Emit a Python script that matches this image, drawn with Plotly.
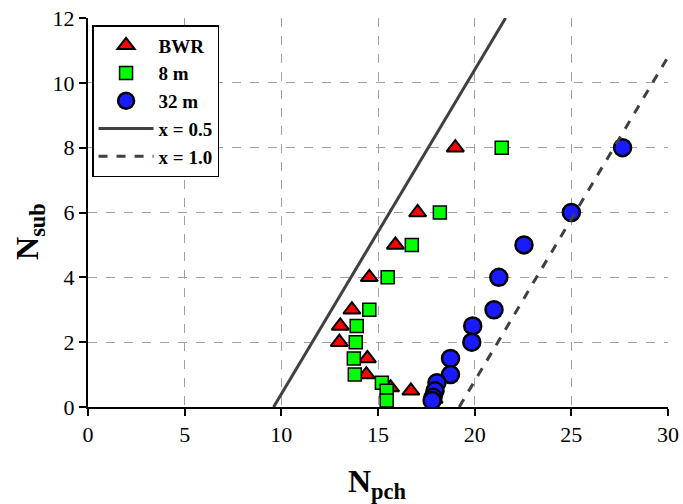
"""
Subcooling number vs phase-change number stability map.
"""

import plotly.graph_objects as go

# ── Data ───────────────────────────────────────────────────────────────────────
bwr_npch = [19.0, 17.05, 15.9, 14.55, 13.65, 13.05, 13.0, 14.45, 14.4, 15.65, 16.7, 17.9]
bwr_nsub = [8.0, 6.0, 5.0, 4.0, 3.0, 2.5, 2.0, 1.5, 1.0, 0.6, 0.5, 0.25]

m8_npch = [21.4, 18.2, 16.75, 15.5, 14.55, 13.9, 13.85, 13.75, 13.8, 15.2, 15.45, 15.45]
m8_nsub = [8.0, 6.0, 5.0, 4.0, 3.0, 2.5, 2.0, 1.5, 1.0, 0.75, 0.5, 0.2]

m32_npch = [27.65, 25.0, 22.55, 21.25, 21.0, 19.9, 19.85, 18.75, 18.75, 18.05, 17.95, 17.85, 17.8]
m32_nsub = [8.0, 6.0, 5.0, 4.0, 3.0, 2.5, 2.0, 1.5, 1.0, 0.75, 0.5, 0.3, 0.2]

# constant-quality lines  (N_sub = N_pch - 19.2 * x)
x05_npch = [9.6, 21.6]
x05_nsub = [0.0, 12.0]
x10_npch = [19.2, 31.2]
x10_nsub = [0.0, 12.0]

x_ticks = [0, 5, 10, 15, 20, 25, 30]
y_ticks = [0, 2, 4, 6, 8, 10, 12]

FONT = "Liberation Serif"
GRID = "#a0a0a0"

fig = go.Figure()

fig.add_trace(go.Scatter(
    x=bwr_npch, y=bwr_nsub, mode="markers", name="<b>BWR</b>",
    marker=dict(symbol="triangle-up", size=15, color="#ff0000",
                line=dict(color="black", width=2)),
))
fig.add_trace(go.Scatter(
    x=m8_npch, y=m8_nsub, mode="markers", name="<b>8 m</b>",
    marker=dict(symbol="square", size=13, color="#00ff00",
                line=dict(color="black", width=1.5)),
))
fig.add_trace(go.Scatter(
    x=m32_npch, y=m32_nsub, mode="markers", name="<b>32 m</b>",
    marker=dict(symbol="circle", size=17, color="#1a1aff",
                line=dict(color="black", width=2.5)),
))
fig.add_trace(go.Scatter(
    x=x05_npch, y=x05_nsub, mode="lines", name="<b>x = 0.5</b>",
    line=dict(color="#404040", width=3),
))
fig.add_trace(go.Scatter(
    x=x10_npch, y=x10_nsub, mode="lines", name="<b>x = 1.0</b>",
    line=dict(color="#404040", width=3, dash="dash"),
))

axis_common = dict(
    ticks="outside", ticklen=7, tickwidth=1.5, tickcolor="black",
    automargin=False, showgrid=True, gridcolor=GRID, gridwidth=1,
    griddash="dash", showline=True, linecolor="black", linewidth=2,
    zeroline=False, tickfont=dict(family=FONT, size=22),
)

fig.update_layout(
    width=683, height=504,
    paper_bgcolor="white", plot_bgcolor="white",
    margin=dict(l=88, r=15, t=18, b=97),
    font=dict(family=FONT, color="black", size=19),
    showlegend=True,
    legend=dict(
        x=0.007, y=0.982, xanchor="left", yanchor="top",
        bgcolor="white", bordercolor="black", borderwidth=1.5,
        font=dict(family=FONT, size=19, color="black"),
        itemwidth=55, tracegroupgap=0,
    ),
    xaxis=dict(range=[0, 30], tickvals=x_ticks, **axis_common),
    yaxis=dict(range=[0, 12], tickvals=y_ticks, **axis_common),
    annotations=[
        dict(text="<b>N<sub>pch</sub></b>", xref="paper", yref="paper",
             x=0.499, y=-0.197, xanchor="center", yanchor="middle",
             showarrow=False, font=dict(family=FONT, size=32)),
        dict(text="<b>N<sub>sub</sub></b>", xref="paper", yref="paper",
             x=-0.1, y=0.45, xanchor="center", yanchor="middle",
             textangle=-90, showarrow=False, font=dict(family=FONT, size=32)),
    ],
)

fig.write_html("out.html", config={"displayModeBar": False},
               post_script="document.body.style.margin='0px';")
